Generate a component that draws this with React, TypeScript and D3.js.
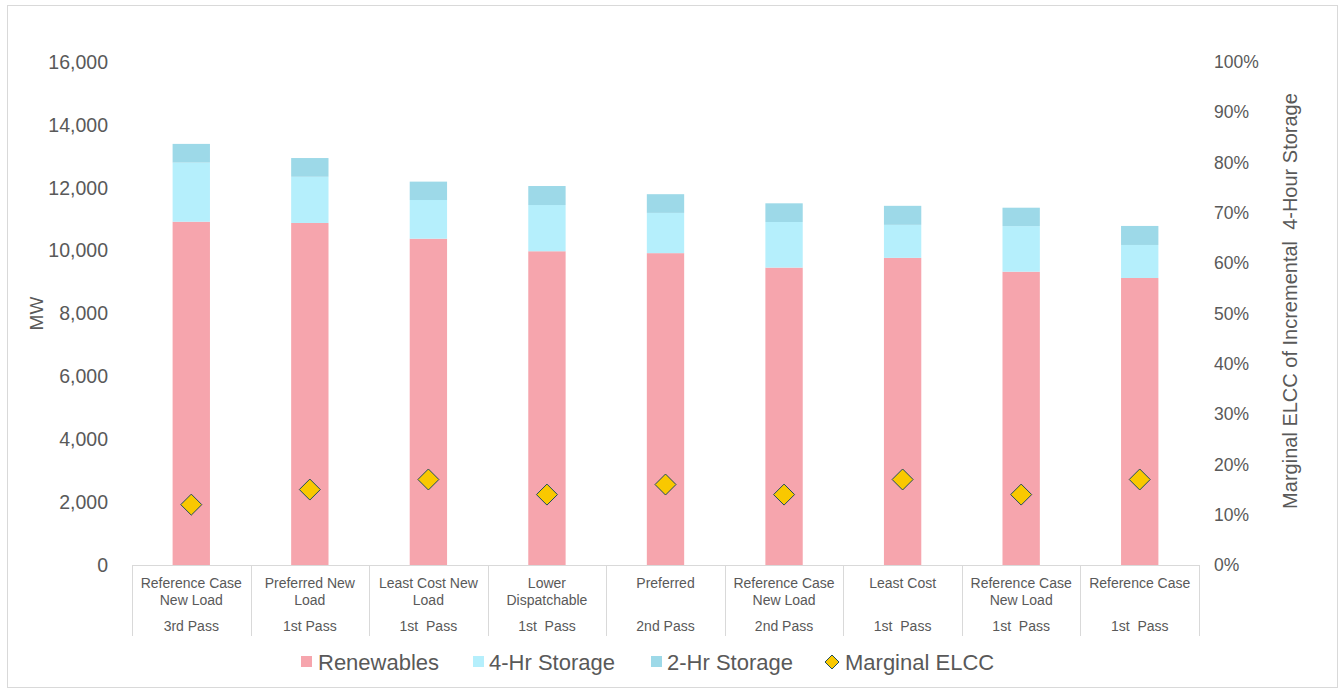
import React from "react";
import * as d3 from "d3";

// Portfolio build-out by scenario (MW) and marginal ELCC of 4-hour storage
const categories = [
  "Reference Case|New Load",
  "Preferred New|Load",
  "Least Cost New|Load",
  "Lower|Dispatchable",
  "Preferred",
  "Reference Case|New Load",
  "Least Cost",
  "Reference Case|New Load",
  "Reference Case",
];
const passes = [
  "3rd Pass",
  "1st Pass",
  "1st  Pass",
  "1st  Pass",
  "2nd Pass",
  "2nd Pass",
  "1st  Pass",
  "1st  Pass",
  "1st  Pass",
];
const renewables = [10920, 10880, 10380, 9980, 9920, 9460, 9770, 9330, 9130];
const storage4hr = [1880, 1470, 1230, 1470, 1280, 1450, 1050, 1450, 1050];
const storage2hr = [595, 595, 585, 605, 595, 595, 605, 585, 605];
const marginalElcc = [0.12, 0.15, 0.17, 0.14, 0.16, 0.14, 0.17, 0.14, 0.17];
const mwTicks = [0, 2000, 4000, 6000, 8000, 10000, 12000, 14000, 16000];
const pctTicks = [0, 0.1, 0.2, 0.3, 0.4, 0.5, 0.6, 0.7, 0.8, 0.9, 1];

const seriesNames = ["Renewables", "4-Hr Storage", "2-Hr Storage"];
const seriesColors = ["#F6A5AD", "#B5EFFC", "#9DD9E8"];
const diamondFill = "#F9C800";
const diamondStroke = "#1F4E5A";
const textColor = "#595959";
const lineColor = "#D9D9D9";
const font = "Arial, 'Liberation Sans', sans-serif";

const W = 1344;
const H = 692;
const plotLeft = 132;
const plotRight = 1199;
const plotTop = 62;
const plotBottom = 565;

export default function App() {
  const idx = categories.map((_, i) => String(i));
  const x = d3.scaleBand<string>().domain(idx).range([plotLeft, plotRight]).paddingInner(0).paddingOuter(0);
  const y = d3.scaleLinear().domain([0, 16000]).range([plotBottom, plotTop]);
  const y2 = d3.scaleLinear().domain([0, 1]).range([plotBottom, plotTop]);
  const barW = x.bandwidth() * 0.315;

  const rows = categories.map((_, i) => ({
    key: String(i),
    Renewables: renewables[i],
    "4-Hr Storage": storage4hr[i],
    "2-Hr Storage": storage2hr[i],
  }));
  const stacked = d3.stack<any>().keys(seriesNames)(rows);

  const diamond = (cx: number, cy: number, r: number) =>
    `M${cx},${cy - r}L${cx + r},${cy}L${cx},${cy + r}L${cx - r},${cy}Z`;

  const legendItems = [
    { label: "Renewables", x: 301, tx: 318, kind: "rect", color: seriesColors[0] },
    { label: "4-Hr Storage", x: 473, tx: 489, kind: "rect", color: seriesColors[1] },
    { label: "2-Hr Storage", x: 651, tx: 667, kind: "rect", color: seriesColors[2] },
    { label: "Marginal ELCC", x: 826, tx: 845, kind: "diamond", color: diamondFill },
  ];

  return (
    <svg
      width={W}
      height={H}
      style={{ position: "absolute", left: 0, top: 0, background: "#fff" }}
      fontFamily={font}
    >
      <rect x={7.5} y={5.5} width={1330} height={682} fill="#fff" stroke={lineColor} />

      {/* stacked bars */}
      {stacked.map((layer, li) => (
        <g key={layer.key} fill={seriesColors[li]}>
          {layer.map((d, i) => (
            <rect
              key={i}
              x={(x(String(i)) as number) + x.bandwidth() / 2 - barW / 2}
              y={y(d[1])}
              width={barW}
              height={y(d[0]) - y(d[1])}
            />
          ))}
        </g>
      ))}

      {/* category axis */}
      <line x1={plotLeft} x2={plotRight} y1={plotBottom + 0.5} y2={plotBottom + 0.5} stroke={lineColor} />
      {idx.concat([String(idx.length)]).map((k, i) => {
        const xx = i < idx.length ? (x(k) as number) : plotRight;
        return (
          <line key={k} x1={Math.round(xx) + 0.5} x2={Math.round(xx) + 0.5} y1={plotBottom} y2={636} stroke={lineColor} />
        );
      })}
      {categories.map((c, i) => {
        const cx = (x(String(i)) as number) + x.bandwidth() / 2;
        const lines = c.split("|");
        return (
          <g key={i} fill={textColor} fontSize={14} textAnchor="middle">
            {lines.map((ln, j) => (
              <text key={j} x={cx} y={588 + j * 17} style={{ whiteSpace: "pre" }}>
                {ln}
              </text>
            ))}
            <text x={cx} y={631} style={{ whiteSpace: "pre" }}>
              {passes[i]}
            </text>
          </g>
        );
      })}

      {/* left axis */}
      {mwTicks.map((t) => (
        <text key={t} x={108} y={y(t)} dy="0.35em" textAnchor="end" fill={textColor} fontSize={19.5}>
          {d3.format(",")(t)}
        </text>
      ))}
      <text
        transform={`translate(36,${(plotTop + plotBottom) / 2}) rotate(-90)`}
        textAnchor="middle"
        dy="0.35em"
        fill={textColor}
        fontSize={19}
      >
        MW
      </text>

      {/* right axis */}
      {pctTicks.map((t) => (
        <text key={t} x={1214} y={y2(t)} dy="0.35em" textAnchor="start" fill={textColor} fontSize={17.5}>
          {d3.format(".0%")(t)}
        </text>
      ))}
      <text
        transform={`translate(1290,${301}) rotate(-90)`}
        textAnchor="middle"
        dy="0.35em"
        fill={textColor}
        fontSize={20}
        style={{ whiteSpace: "pre" }}
      >
        {"Marginal ELCC of Incremental  4-Hour Storage"}
      </text>

      {/* marginal ELCC markers */}
      {marginalElcc.map((v, i) => (
        <path
          key={i}
          d={diamond((x(String(i)) as number) + x.bandwidth() / 2, y2(v), 10.5)}
          fill={diamondFill}
          stroke={diamondStroke}
          strokeWidth={1}
        />
      ))}

      {/* legend */}
      {legendItems.map((it) => (
        <g key={it.label}>
          {it.kind === "rect" ? (
            <rect x={it.x} y={656} width={11} height={11} fill={it.color} />
          ) : (
            <path d={diamond(it.x + 6, 662, 7)} fill={it.color} stroke={diamondStroke} />
          )}
          <text x={it.tx} y={662} dy="0.35em" fill={textColor} fontSize={22}>
            {it.label}
          </text>
        </g>
      ))}
    </svg>
  );
}
